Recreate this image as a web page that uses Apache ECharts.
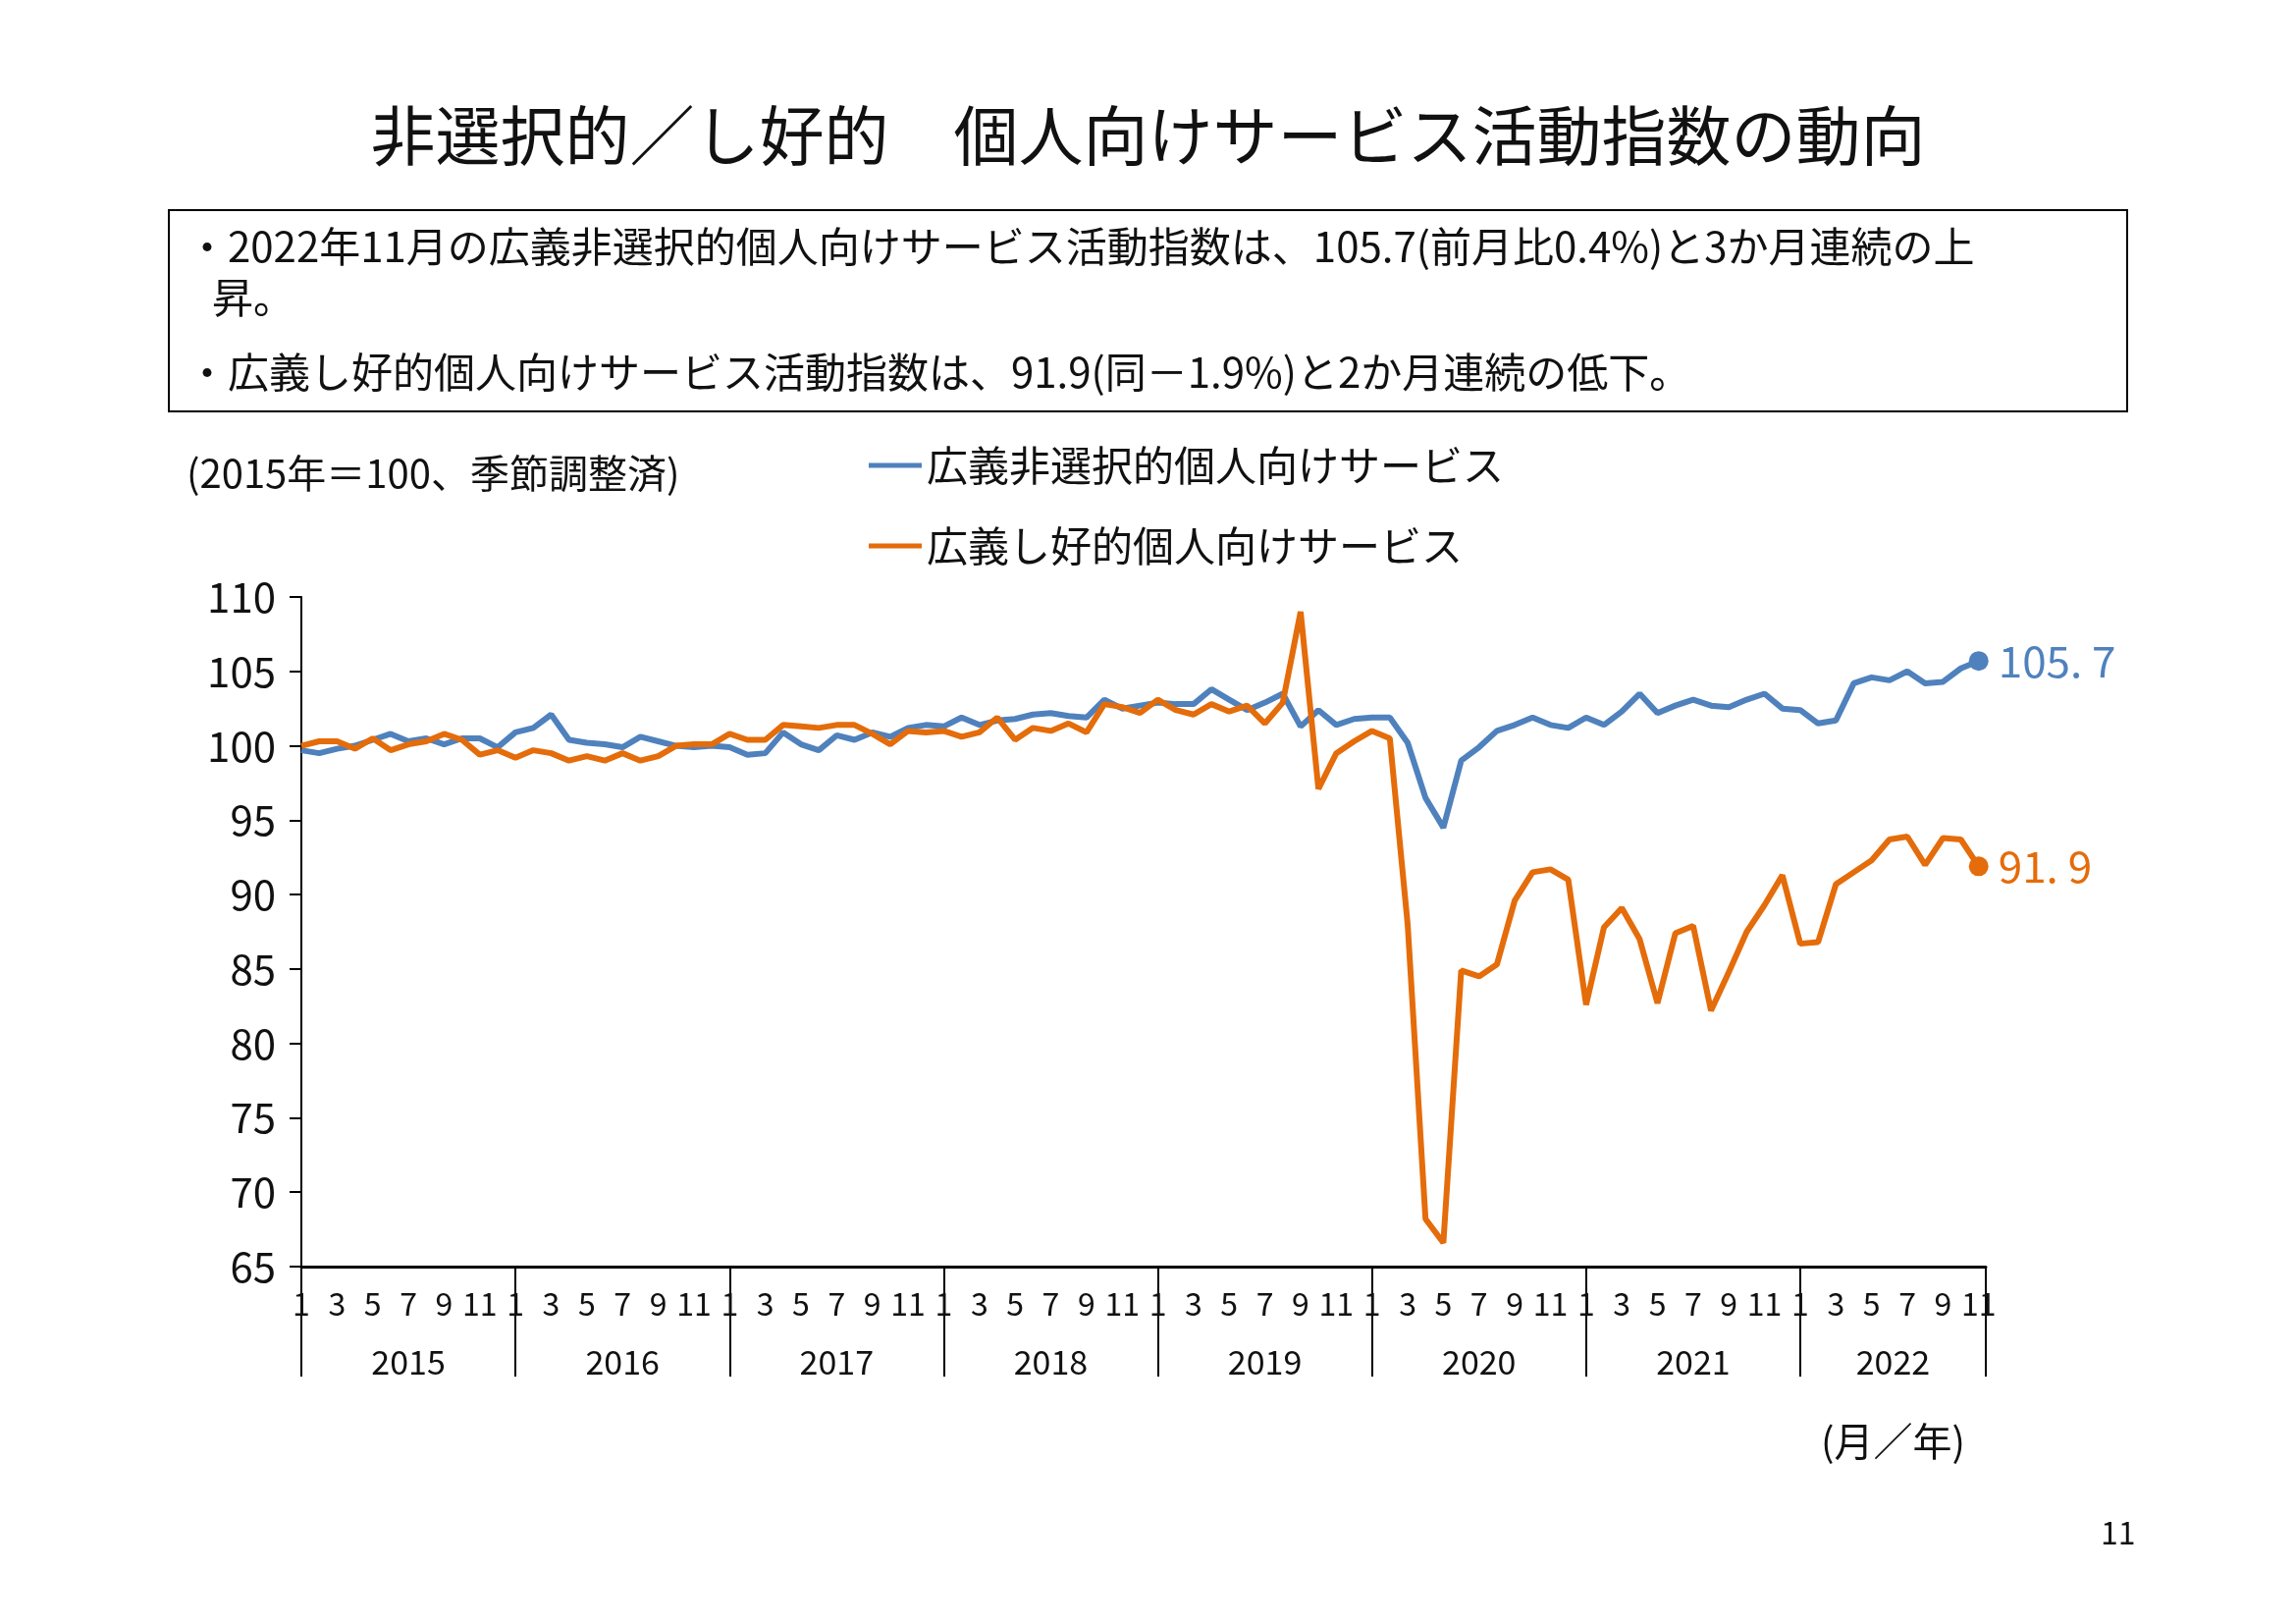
<!DOCTYPE html>
<html>
<head>
<meta charset="utf-8">
<script src="https://cdn.jsdelivr.net/npm/echarts@6/dist/echarts.min.js"></script>
<style>
  html, body { margin: 0; padding: 0; background: #fff; }
  #chart { width: 2339px; height: 1654px; }
</style>
</head>
<body>
<div id="chart"></div>
<script>
// 2015年1月〜2022年11月（月次）
const START_YEAR = 2015;
const SERIES_NAMES = ['広義非選択的個人向けサービス', '広義し好的個人向けサービス'];

const nonSelective = [
  99.7, 99.5, 99.8, 100.0, 100.4, 100.8, 100.3, 100.5, 100.1, 100.5, 100.5, 99.9,
  100.9, 101.2, 102.1, 100.4, 100.2, 100.1, 99.9, 100.6, 100.3, 100.0, 99.9, 100.0,
  99.9, 99.4, 99.5, 100.9, 100.1, 99.7, 100.7, 100.4, 100.9, 100.6, 101.2, 101.4,
  101.3, 101.9, 101.4, 101.7, 101.8, 102.1, 102.2, 102.0, 101.9, 103.1, 102.5, 102.7,
  102.9, 102.8, 102.8, 103.8, 103.1, 102.4, 102.9, 103.5, 101.3, 102.4, 101.4, 101.8,
  101.9, 101.9, 100.2, 96.5, 94.5, 99.0, 99.9, 101.0, 101.4, 101.9, 101.4, 101.2,
  101.9, 101.4, 102.3, 103.5, 102.2, 102.7, 103.1, 102.7, 102.6, 103.1, 103.5, 102.5,
  102.4, 101.5, 101.7, 104.2, 104.6, 104.4, 105.0, 104.2, 104.3, 105.2, 105.7
];

const discretionary = [
  100.0, 100.3, 100.3, 99.8, 100.5, 99.7, 100.1, 100.3, 100.8, 100.4, 99.4, 99.7,
  99.2, 99.7, 99.5, 99.0, 99.3, 99.0, 99.5, 99.0, 99.3, 100.0, 100.1, 100.1,
  100.8, 100.4, 100.4, 101.4, 101.3, 101.2, 101.4, 101.4, 100.8, 100.1, 101.0, 100.9,
  101.0, 100.6, 100.9, 101.9, 100.4, 101.2, 101.0, 101.5, 100.9, 102.8, 102.6, 102.2,
  103.1, 102.4, 102.1, 102.8, 102.3, 102.7, 101.5, 102.9, 109.0, 97.1, 99.5, 100.3,
  101.0, 100.5, 88.0, 68.2, 66.6, 84.9, 84.5, 85.3, 89.6, 91.5, 91.7, 91.0,
  82.6, 87.8, 89.1, 87.0, 82.7, 87.4, 87.9, 82.2, 84.8, 87.5, 89.3, 91.3,
  86.7, 86.8, 90.7, 91.5, 92.3, 93.7, 93.9, 92.0, 93.8, 93.7, 91.9
];

const yTicks = { min: 65, max: 110, interval: 5 };

const FONT = '"Noto Sans CJK JP", "Noto Sans", sans-serif';
const BLUE = '#4f81bd';
const ORANGE = '#e46c0a';
const N = nonSelective.length;
const X_MAX = N - 1 + 0.4;

function toPoints(arr, color) {
  return arr.map((v, i) => i === arr.length - 1
    ? { value: [i, v], symbolSize: 20, itemStyle: { color } }
    : { value: [i, v], symbolSize: 0 });
}

// 月ラベル（奇数月）・年区切り・年ラベル位置
const monthTicks = [];
for (let i = 0; i < N; i += 2) monthTicks.push(i);
const yearBounds = [];
for (let i = 0; i < N; i += 12) yearBounds.push(i);
yearBounds.push(X_MAX);
const yearCenters = yearBounds.slice(0, -1).map((b, k) => (b + yearBounds[k + 1]) / 2);

function makeSeries(name, arr, color) {
  return {
    name,
    type: 'line',
    data: toPoints(arr, color),
    symbol: 'circle',
    showSymbol: true,
    lineStyle: { color, width: 6 },
    itemStyle: { color },
    endLabel: {
      show: true,
      formatter: p => p.value[1].toFixed(1).replace('.', '. '),
      color,
      fontSize: 44,
      fontFamily: FONT,
      distance: 20
    },
    animation: false
  };
}

const chart = echarts.init(document.getElementById('chart'));
chart.setOption({
  backgroundColor: '#fff',
  textStyle: { fontFamily: FONT },
  title: {
    text: '非選択的／し好的　個人向けサービス活動指数の動向',
    left: 'center',
    top: 100,
    textStyle: { fontSize: 66, fontWeight: 'normal', color: '#111', fontFamily: FONT }
  },
  legend: {
    orient: 'vertical',
    left: 880,
    top: 448,
    itemGap: 40,
    icon: 'rect',
    itemWidth: 54,
    itemHeight: 5,
    textStyle: { fontSize: 42, color: '#111', fontFamily: FONT },
    data: SERIES_NAMES
  },
  graphic: [
    {
      type: 'rect',
      shape: { x: 172, y: 214, width: 1006 * 2 - 17, height: 205 },
      style: { fill: 'none', stroke: '#000', lineWidth: 2 }
    },
    {
      type: 'text', left: 190, top: 230,
      style: { text: '・2022年11月の広義非選択的個人向けサービス活動指数は、105.7(前月比0.4%)と3か月連続の上', fontSize: 42, fill: '#111', fontFamily: FONT }
    },
    {
      type: 'text', left: 216, top: 282,
      style: { text: '昇。', fontSize: 42, fill: '#111', fontFamily: FONT }
    },
    {
      type: 'text', left: 190, top: 358,
      style: { text: '・広義し好的個人向けサービス活動指数は、91.9(同－1.9%)と2か月連続の低下。', fontSize: 42, fill: '#111', fontFamily: FONT }
    },
    {
      type: 'text', left: 190, top: 462,
      style: { text: '(2015年＝100、季節調整済)', fontSize: 40, fill: '#111', fontFamily: FONT }
    },
    {
      type: 'text', left: 1855, top: 1448,
      style: { text: '(月／年)', fontSize: 40, fill: '#111', fontFamily: FONT }
    },
    {
      type: 'text', left: 2140, top: 1545,
      style: { text: '11', fontSize: 32, fill: '#111', fontFamily: FONT }
    }
  ],
  grid: { left: 307, right: 316, top: 608, bottom: 1654 - 1290 },
  xAxis: [
    {
      type: 'value',
      min: 0,
      max: X_MAX,
      axisLine: { show: true, lineStyle: { color: '#000', width: 3 } },
      splitLine: { show: false },
      axisTick: {
        show: true,
        customValues: yearBounds,
        length: 112,
        lineStyle: { color: '#000', width: 2 }
      },
      axisLabel: {
        customValues: monthTicks,
        formatter: v => String((Math.round(v) % 12) + 1),
        fontSize: 32,
        color: '#111',
        margin: 22,
        fontFamily: FONT
      }
    },
    {
      type: 'value',
      min: 0,
      max: X_MAX,
      position: 'bottom',
      axisLine: { show: false },
      axisTick: { show: false },
      splitLine: { show: false },
      axisLabel: {
        customValues: yearCenters,
        formatter: v => String(START_YEAR + Math.floor(v / 12)),
        fontSize: 34,
        color: '#111',
        margin: 80,
        fontFamily: FONT
      }
    }
  ],
  yAxis: {
    type: 'value',
    min: yTicks.min,
    max: yTicks.max,
    interval: yTicks.interval,
    axisLine: { show: true, lineStyle: { color: '#000', width: 2 } },
    axisTick: { show: true, length: 12, lineStyle: { color: '#000', width: 2 } },
    splitLine: { show: false },
    axisLabel: { fontSize: 42, color: '#111', margin: 26, fontFamily: FONT }
  },
  series: [
    makeSeries(SERIES_NAMES[0], nonSelective, BLUE),
    makeSeries(SERIES_NAMES[1], discretionary, ORANGE)
  ]
});
window.addEventListener('resize', () => chart.resize());
</script>
</body>
</html>
